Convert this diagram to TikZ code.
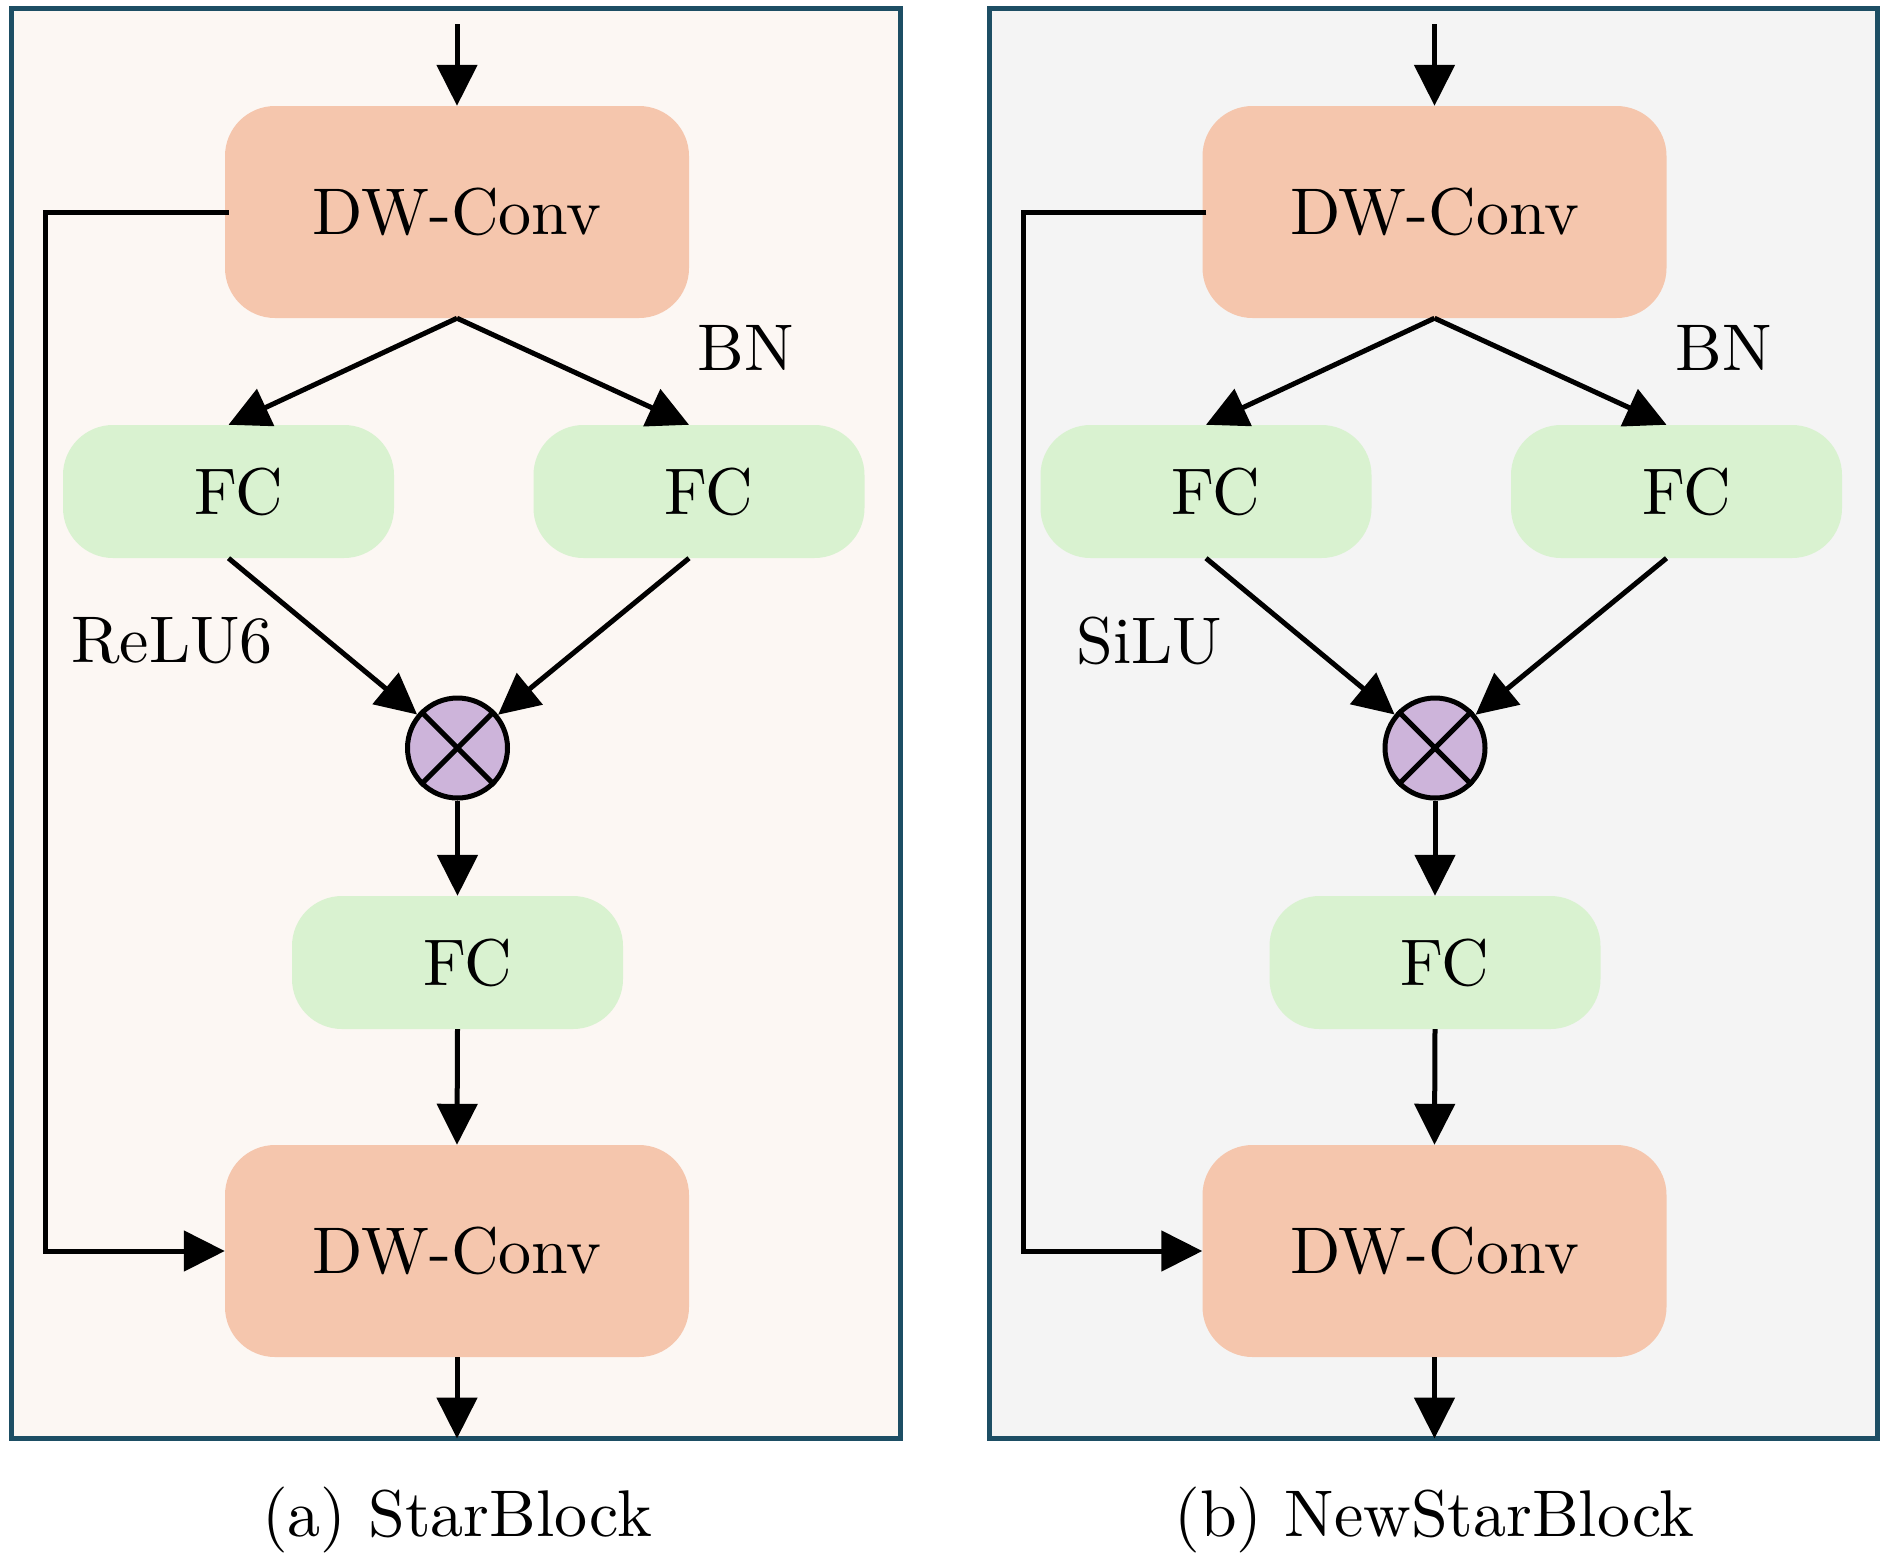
\documentclass[tikz,border=0pt]{standalone}
\usepackage{fontspec}
\setmainfont{lmroman10-regular.otf}
\usetikzlibrary{arrows.meta}
\definecolor{dwcol}{HTML}{F5C6AD}
\definecolor{fccol}{HTML}{D9F2D0}
\definecolor{mulcol}{HTML}{CDB4DA}
\definecolor{bgA}{HTML}{FCF7F3}
\definecolor{bgB}{HTML}{F4F4F4}
\definecolor{framecol}{HTML}{1D4E64}
\begin{document}
\begin{tikzpicture}[x=1pt,y=-1pt,
  every node/.style={font=\fontsize{66pt}{79pt}\selectfont},
  dwbox/.style={rectangle,rounded corners=50pt,fill=dwcol,draw=none,minimum width=464pt,minimum height=212pt,inner sep=0pt},
  fcbox/.style={rectangle,rounded corners=50pt,fill=fccol,draw=none,minimum width=331pt,minimum height=133pt,inner sep=0pt},
  mulnode/.style={circle,draw=black,line width=5pt,fill=mulcol,minimum size=100pt,inner sep=0pt},
  conn/.style={line width=5pt,draw=black},
  arr/.style={conn,-{Triangle[length=41pt,width=40pt]}},
  framebox/.style={draw=framecol,line width=5pt},
  lbl/.style={inner sep=0pt}
]
\useasboundingbox (0,0) rectangle (1890,1559);
\fill[white] (0,0) rectangle (1890,1559);
\foreach \p/\dx/\bg/\act/\cap in {a/0/bgA/ReLU6/{(a) StarBlock},b/977.5/bgB/SiLU/{(b) NewStarBlock}}{
\begin{scope}[xshift=\dx pt]
  \draw[framebox,fill=\bg] (11.5,8.5) rectangle (900,1438.5);
  \node[dwbox] (\p dw1) at (457,212) {DW-Conv};
  \node[fcbox] (\p fc1) at (228.5,491.5) {\hspace{20pt}FC};
  \node[fcbox] (\p fc2) at (699,491.5) {\hspace{20pt}FC};
  \node[mulnode] (\p m) at (457.5,748) {};
  \draw[conn] (\p m.north west) -- (\p m.south east);
  \draw[conn] (\p m.north east) -- (\p m.south west);
  \node[fcbox] (\p fc3) at (457.5,962.5) {\hspace{20pt}FC};
  \node[dwbox] (\p dw2) at (457,1251) {DW-Conv};
  \coordinate (\p in) at (457,24);
  \coordinate (\p out) at (457,1438.5);
  \node[lbl] (\p bn) at (746,348) {BN};
  \node[lbl] (\p act) at (172,641) {\act};
  \node[lbl,anchor=base] (\p cap) at (457,1536) {\cap};
  \draw[arr] (\p in) -- (\p dw1.north);
  \draw[arr] (\p dw1.south) -- (\p fc1.north);
  \draw[arr] (\p dw1.south) -- ([xshift=-10pt]\p fc2.north);
  \draw[arr] (\p fc1.south) -- (\p m);
  \draw[arr] ([xshift=-10pt]\p fc2.south) -- (\p m);
  \draw[arr] (\p m) -- (\p fc3.north);
  \draw[arr] (\p fc3.south) -- (\p dw2.north);
  \draw[arr] (\p dw2.south) -- (\p out);
  \draw[arr] ([xshift=4pt]\p dw1.west) -- ++(-183,0) |- (\p dw2.west);
\end{scope}
}
\end{tikzpicture}
\end{document}
